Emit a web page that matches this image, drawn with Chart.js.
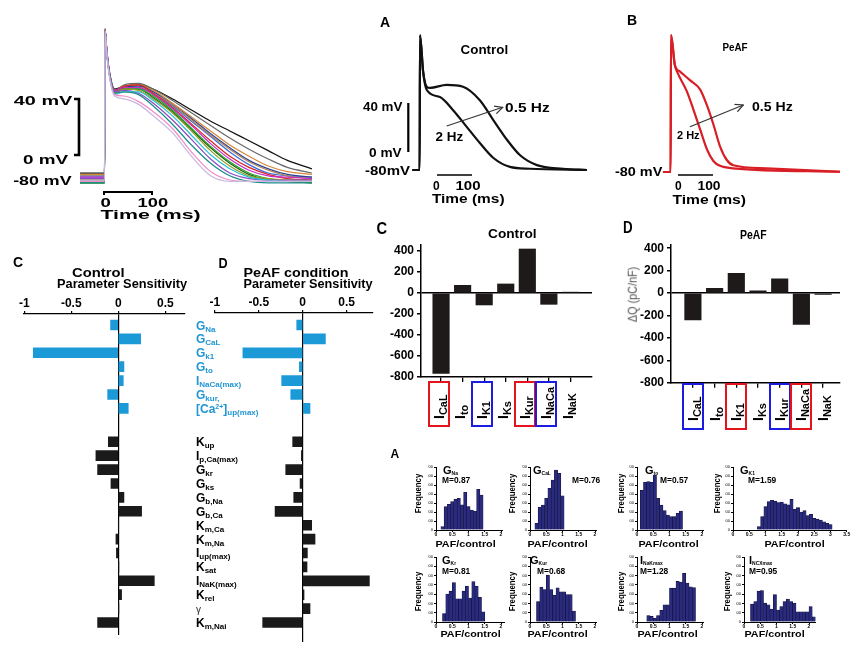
<!DOCTYPE html>
<html><head><meta charset="utf-8">
<script src="https://cdn.jsdelivr.net/npm/chart.js@4.4.1/dist/chart.umd.min.js"></script>
<style>
html,body{margin:0;padding:0;background:#fff;}
#root{position:relative;width:863px;height:655px;overflow:hidden;font-family:"Liberation Sans",Arial,sans-serif;background:#fff;}
canvas.cv{position:absolute;left:0;top:0;}
.t{position:absolute;white-space:nowrap;line-height:1;color:#000;z-index:5;}
.t sub{font-size:0.45em;vertical-align:-0.2em;line-height:0;}
.sl{position:absolute;white-space:nowrap;font-weight:bold;font-size:12px;line-height:13px;height:13px;z-index:5;}
.sl sub{font-size:8px;vertical-align:-2px;line-height:0;}
.sl sup{font-size:7px;vertical-align:4px;line-height:0;}
.rl{position:absolute;white-space:nowrap;font-weight:bold;font-size:14px;line-height:16px;z-index:5;}
.rl sub{font-size:11px;vertical-align:-3px;line-height:0;}
.bx{position:absolute;box-sizing:border-box;border:2.5px solid #000;z-index:4;}
#ov{position:absolute;left:0;top:0;z-index:6;}
</style></head>
<body><div id="root">
<svg id="ov" width="863" height="655">
<defs><marker id="ah" markerWidth="9" markerHeight="9" refX="8" refY="4.5" orient="auto" markerUnits="userSpaceOnUse"><path d="M0,0.5 L8,4.5 L0,8.5" fill="none" stroke="#333" stroke-width="1.2"/></marker></defs>
<path d="M74,99 H79 V155 H74" fill="none" stroke="#000" stroke-width="2.6"/>
<path d="M104,195 V192 H152 V195" fill="none" stroke="#000" stroke-width="2"/>
<line x1="408.3" y1="103" x2="408.3" y2="152" stroke="#000" stroke-width="2.2"/>
<line x1="437" y1="175" x2="472" y2="175" stroke="#000" stroke-width="1.6"/>
<line x1="678" y1="175" x2="713" y2="175" stroke="#000" stroke-width="1.6"/>
<line x1="446.7" y1="126" x2="502.7" y2="107.3" stroke="#333" stroke-width="1.1" marker-end="url(#ah)"/>
<line x1="690" y1="126.7" x2="743.3" y2="105" stroke="#333" stroke-width="1.1" marker-end="url(#ah)"/>
</svg>
</div>
<script>
// ================= DATA =================
// Top-left: family of simulated action potentials (time ms, voltage mV)
const apTime = [-52,-1,0,4,10,20,40,70,100,140,180,220,260,300,340,380,431];
const ap1  = [-75,-75,28,12,-4,-15,-13,-12,-15,-22,-30,-38,-45,-52,-59,-66,-72];
const ap2  = [-77,-77,27,11,-5,-16,-12,-11,-15,-23,-32,-41,-50,-58,-65,-71,-75];
const ap3  = [-79,-79,27,10,-6,-17,-14,-13,-17,-26,-36,-47,-57,-66,-72,-76,-78];
const ap4  = [-80,-80,28,12,-5,-16,-13,-12,-18,-28,-40,-52,-63,-71,-76,-79,-80];
const ap5  = [-82,-82,26,10,-6,-18,-15,-15,-20,-30,-43,-56,-67,-75,-79,-81,-82];
const ap6  = [-78,-78,27,11,-5,-16,-14,-14,-19,-29,-41,-54,-65,-73,-77,-78,-79];
const ap7  = [-81,-81,26,9,-7,-19,-17,-17,-23,-34,-48,-62,-72,-78,-80,-81,-81];
const ap8  = [-80,-80,27,10,-6,-17,-15,-16,-22,-32,-45,-59,-70,-77,-79,-80,-80];
const ap9  = [-79,-79,27,11,-5,-17,-16,-18,-25,-37,-51,-65,-75,-79,-80,-80,-80];
const ap10 = [-82,-82,26,10,-6,-18,-17,-19,-27,-40,-55,-68,-77,-81,-82,-82,-82];
const ap11 = [-76,-76,27,11,-5,-16,-13,-12,-16,-25,-35,-45,-55,-63,-70,-74,-76];
const ap12 = [-81,-81,27,10,-7,-19,-20,-24,-31,-43,-60,-74,-80,-81,-81,-81,-81];
const ap13 = [-80,-80,26,9,-8,-20,-22,-26,-34,-46,-63,-77,-81,-81,-81,-81,-81];
const ap14 = [-78,-78,28,11,-5,-16,-14,-14,-18,-27,-38,-49,-60,-69,-75,-77,-78];
const ap15 = [-82,-82,27,10,-6,-17,-15,-15,-21,-31,-44,-57,-68,-76,-80,-81,-82];
const ap16 = [-79,-79,27,11,-6,-17,-15,-14,-18,-26,-37,-48,-58,-67,-73,-77,-79];
// A: Control
const ctrl05Time = [-22,-1,0,9,19,29,76,123,171,209,249,286,334,409,477];
const ctrl05V    = [-80,-80,30,0,-12,-13,-10.5,-12,-23,-39,-55.5,-68,-76,-79,-80];
const ctrl2Time  = [-22,-1,0,9,19,57,94,134,171,209,257,314,477];
const ctrl2V     = [-80,-80,30,0,-14.5,-20.5,-31,-45,-58,-70,-77.5,-79,-80];
// B: PeAF
const peaf05Time = [-23,-1,0,11,26,54,83,102,121,140,159,178,273,483];
const peaf05V    = [-80,-80,31.8,7.3,1.9,-5,-12.5,-25,-41,-59,-70,-74.5,-77,-79.8];
const peaf2Time  = [-23,-1,0,11,18,45,64,83,102,121,140,177,483];
const peaf2V     = [-80,-80,31.8,7.3,1.5,-14,-29,-45,-61,-71,-75,-77,-79.8];
// C/D: charge change per current
const currents  = ['CaL','to','K1','Ks','Kur','NaCa','NaK'];
const dQControl = [-765,73,-114,86,419,-108,8];
const dQPeAF    = [-240,43,177,21,126,-279,-11];
const dQTicks   = [400,200,0,-200,-400,-600,-800];
// Parameter sensitivity
const sensParams = ['G<sub>Na</sub>','G<sub>CaL</sub>','G<sub>k1</sub>','G<sub>to</sub>','I<sub>NaCa(max)</sub>','G<sub>kur,</sub>','[Ca<sup>2+</sup>]<sub>up(max)</sub>',
  'K<sub>up</sub>','I<sub>p,Ca(max)</sub>','G<sub>kr</sub>','G<sub>ks</sub>','G<sub>b,Na</sub>','G<sub>b,Ca</sub>','K<sub>m,Ca</sub>','K<sub>m,Na</sub>',
  'I<sub>up(max)</sub>','K<sub>sat</sub>','I<sub>NaK(max)</sub>','K<sub>rel</sub>','γ','K<sub>m,Nai</sub>'];
const sensControl = [-0.082,0.238,-0.904,0.060,0.053,-0.113,0.106,-0.106,-0.238,-0.220,-0.078,0.060,0.248,0.0,-0.025,-0.020,0.005,0.383,0.035,0.003,-0.220];
const sensPeAF    = [-0.068,0.258,-0.680,-0.038,-0.239,-0.136,0.083,-0.114,-0.015,-0.193,-0.030,-0.102,-0.314,0.102,0.140,0.053,0.049,0.758,0.015,0.083,-0.455];
const sensTicks = [-1,-0.5,0,0.5];
// Histograms (PAF/control ratio bins and frequencies)
const binsGNa = [0.2,0.3,0.4,0.5,0.6,0.7,0.8,0.9,1.0,1.1,1.2,1.3,1.4];
const cntGNa  = [37,259,285,315,340,352,280,419,260,222,211,452,389];
const binsGCaL = [0.2,0.3,0.4,0.5,0.6,0.7,0.8,0.9,1.0];
const cntGCaL  = [74,252,278,352,463,556,667,630,381];
const binsGto = [0.15,0.25,0.35,0.45,0.55,0.65,0.75,0.85,0.95,1.05,1.15,1.25,1.35];
const cntGto  = [440,530,537,530,611,352,278,215,167,148,150,185,211];
const binsGK1 = [0.8,0.9,1.0,1.1,1.2,1.3,1.4,1.5,1.6,1.7,1.8,1.9,2.0,2.1,2.2,2.3,2.4,2.5,2.6,2.7,2.8,2.9,3.0];
const cntGK1  = [37,150,260,315,330,320,305,310,290,280,340,230,250,200,215,160,175,130,120,110,90,75,60];
const binsGKr = [0.25,0.35,0.45,0.55,0.65,0.75,0.85,0.95,1.05,1.15,1.25,1.35,1.45];
const cntGKr  = [92,302,332,424,250,250,332,387,258,435,387,265,110];
const binsGKur = [0.25,0.35,0.45,0.55,0.65,0.75,0.85,0.95,1.05,1.15,1.25,1.35];
const cntGKur  = [221,376,350,505,350,287,368,324,324,295,295,118];
const binsINaK = [0.35,0.45,0.55,0.65,0.75,0.85,0.95,1.05,1.15,1.25,1.35,1.45,1.55,1.65,1.75];
const cntINaK  = [70,60,40,70,125,186,186,365,365,437,430,523,420,380,370];
const binsINCX = [0.25,0.35,0.45,0.55,0.65,0.75,0.85,0.95,1.05,1.15,1.25,1.35,1.45,1.55,1.65,1.75,1.85,1.95,2.05,2.15];
const cntINCX  = [192,221,332,339,203,184,140,295,129,166,221,247,221,203,110,110,110,110,166,55];
const histYTicks = [0,100,200,300,400,500,600,700];
const histXTicks2 = [0,0.5,1,1.5,2];
const histXTicks35 = [0,0.5,1,1.5,2,2.5,3,3.5];

// ================= HELPERS =================
const W=863,H=655;
const root=document.getElementById('root');
Chart.defaults.font.family='"Liberation Sans", Arial, sans-serif';
Chart.defaults.color='#000';

function mk(cfg,A,ax){
  ax=ax||{};
  const c=document.createElement('canvas');
  c.width=W;c.height=H;c.className='cv';
  root.insertBefore(c,document.getElementById('ov'));
  const o=cfg.options=cfg.options||{};
  o.responsive=false;o.animation=false;o.events=[];
  o.layout={padding:{left:A.l-(ax.left||0),right:W-A.r,top:A.t-(ax.top||0),bottom:H-A.b-(ax.bottom||0)}};
  o.plugins={legend:{display:false},tooltip:{enabled:false}};
  return new Chart(c,cfg);
}
function txt(html,x,y,o){
  o=o||{};
  const d=document.createElement('div');
  d.className='t';d.innerHTML=html;
  const s=d.style;
  s.fontSize=(o.size||12)+'px';
  s.fontWeight=o.bold===false?'normal':'bold';
  if(o.color)s.color=o.color;
  root.appendChild(d);
  const w0=d.offsetWidth,h0=d.offsetHeight;
  const sx=o.w?o.w/w0:1;
  if(o.rot){
    s.left=(x-w0/2)+'px';s.top=(y-h0/2)+'px';
    s.transform='rotate(-90deg) scaleX('+sx+')';
  }else{
    const a=o.a||'c';
    s.left=(a==='l'?x:a==='r'?x-w0:x-w0/2)+'px';
    s.top=(y-h0/2)+'px';
    s.transformOrigin=(a==='l'?'left':a==='r'?'right':'center')+' center';
    s.transform='scaleX('+sx+')';
  }
  return d;
}
const pts=(xs,ys)=>xs.map((x,i)=>({x:x,y:ys[i]}));
const lineDS=(xs,ys,color,w)=>({data:pts(xs,ys),borderColor:color,borderWidth:w,pointRadius:0,cubicInterpolationMode:'monotone',fill:false});
const hiddenScales=(x0,x1,y0,y1)=>({x:{type:'linear',display:false,min:x0,max:x1},y:{type:'linear',display:false,min:y0,max:y1}});

// ================= TOP-LEFT AP FAMILY =================
const apTraces=[ap13,ap12,ap10,ap7,ap9,ap8,ap5,ap15,ap6,ap4,ap16,ap3,ap14,ap11,ap2,ap1];
const apColors=['#c9b8e0','#ef8fc8','#1f8c8c','#27c3d3','#8a4cc4','#9a9a28','#2ca02c','#156a15','#c72cc7','#d62728','#b08a5a','#2a3f95','#3d6ae0','#d5883a','#6a6a6a','#111111'];
mk({type:'line',data:{datasets:apTraces.map((tr,i)=>lineDS(apTime,tr,apColors[i],1.25))},
  options:{scales:hiddenScales(-55,435,-90,35)}},{l:78.6,r:313.8,t:19,b:194});
txt('40 mV',72,100,{size:13,a:'r',w:58});
txt('0 mV',68,159,{size:13,a:'r',w:45});
txt('-80 mV',72,180.5,{size:13,a:'r',w:59});
txt('0',105,202,{size:13,w:10});
txt('100',152.5,202,{size:13,w:31});
txt('Time  (ms)',150,214,{size:13,w:100});

// ================= A: CONTROL =================
mk({type:'line',data:{datasets:[lineDS(ctrl05Time,ctrl05V,'#111',2.2),lineDS(ctrl2Time,ctrl2V,'#111',2.2)]},
  options:{scales:hiddenScales(-25,480,-90,35)}},{l:411.25,r:588,t:29.1,b:182.25});
txt('A',385,22,{size:14,w:10});
txt('Control',484,50,{size:12,w:48});
txt('40 mV',402,107,{size:12,a:'r',w:39});
txt('0 mV',402,152.5,{size:12,a:'r',w:33});
txt('-80mV',410,171,{size:12,a:'r',w:45});
txt('0',436.5,186,{size:12,w:7});
txt('100',467.5,186,{size:12,w:25});
txt('Time  (ms)',467.5,199,{size:12,w:72});
txt('0.5 Hz',527.5,107.5,{size:12,w:45});
txt('2 Hz',449,137,{size:12,w:28});

// ================= B: PeAF =================
mk({type:'line',data:{datasets:[lineDS(peaf05Time,peaf05V,'#d81f26',2.2),lineDS(peaf2Time,peaf2V,'#d81f26',2.2)]},
  options:{scales:hiddenScales(-25,485,-90,35)}},{l:662.25,r:840.75,t:31.1,b:184.25});
txt('B',632,20,{size:14,w:10});
txt('PeAF',734.5,47.5,{size:11,w:25});
txt('-80 mV',662,172,{size:12,a:'r',w:47});
txt('0',678.5,186,{size:12,w:7});
txt('100',708.5,186,{size:12,w:23});
txt('Time  (ms)',708.5,199.5,{size:12,w:73});
txt('0.5 Hz',772.5,107,{size:12,w:41});
txt('2 Hz',688.5,135,{size:11,w:23});

// ================= C / D: dQ bar charts =================
function dqChart(vals,A,xmin,xmax,ymax,boxColors,off,yb,boxTop,boxBot){
  const ch=mk({type:'bar',data:{datasets:[{data:vals.map((v,i)=>({x:i,y:v})),backgroundColor:'#1e1a1a',barThickness:16.5}]},
    options:{scales:{
      x:{type:'linear',min:xmin,max:xmax,offset:false,
         afterBuildTicks:s=>{s.ticks=currents.map((c,i)=>({value:i}));},afterFit:s=>{s.height=5;},
         ticks:{display:false},grid:{drawOnChartArea:false,tickLength:5,tickColor:'#000',lineWidth:1.3,offset:false},border:{color:'#000',width:1.5}},
      y:{type:'linear',min:-800,max:ymax,
         afterBuildTicks:s=>{s.ticks=dQTicks.map(v=>({value:v}));},afterFit:s=>{s.width=40;},
         ticks:{font:{size:12,weight:'bold'},padding:3,color:'#000',callback:v=>String(v)},
         grid:{color:c=>(c.tick&&c.tick.value===0)?'#000':'rgba(0,0,0,0)',lineWidth:1.5,tickColor:'#000',tickLength:4},
         border:{color:'#000',width:1.5}}
    }}},A,{left:40,bottom:5});
  currents.forEach((c,i)=>{
    const cx=ch.scales.x.getPixelForValue(i)+off;
    if(boxColors[i]){
      const b=document.createElement('div');b.className='bx';
      b.style.left=(cx-11)+'px';b.style.top=boxTop+'px';b.style.width='22px';b.style.height=(boxBot-boxTop)+'px';
      b.style.borderColor=boxColors[i];root.appendChild(b);
    }
    const d=document.createElement('div');d.className='rl';
    d.innerHTML='I<sub>'+c+'</sub>';root.appendChild(d);
    const h=d.offsetHeight;
    d.style.left=cx+'px';d.style.top=yb+'px';d.style.transformOrigin='0 0';
    d.style.transform='rotate(-90deg) translate(0,'+(-h/2)+'px)';
  });
  return ch;
}
const RED='#e3141c',BLUE='#1c1ce0';
dqChart(dQControl,{l:421,r:592,t:245,b:377},-0.93,7.0,457,[RED,null,BLUE,null,RED,BLUE,null],-2.5,419,381,426.5);
txt('C',382,229,{size:16,w:11});
txt('Control',512.5,234,{size:12,w:49});
dqChart(dQPeAF,{l:671,r:840,t:245,b:382.7},-1.01,6.78,429,[BLUE,null,RED,null,BLUE,RED,null],0,421,383,430);
txt('D',627.5,228,{size:16,w:10});
txt('PeAF',753.5,235,{size:12,w:27});
txt('ΔQ (pC/nF)',632,294.5,{size:13,bold:false,color:'#555',rot:true,w:55});

// ================= Parameter sensitivity (horizontal bars) =================
const BLUEBAR='#1c9ad8';
const sensRows=sensParams.map((p,i)=>i<7?i:i+1.4);
function sensChart(vals,A,xmax,ymin,ymax){
  mk({type:'bar',data:{datasets:[{data:vals.map((v,i)=>({x:v,y:sensRows[i]})),
      backgroundColor:vals.map((v,i)=>i<7?BLUEBAR:'#1a1a1a'),barThickness:10}]},
    options:{indexAxis:'y',scales:{
      x:{type:'linear',position:'top',min:-1.005,max:xmax,offset:false,
         afterBuildTicks:s=>{s.ticks=sensTicks.map(v=>({value:v}));},afterFit:s=>{s.height=20;},
         ticks:{font:{size:12,weight:'bold'},padding:0,maxRotation:0,autoSkip:false,color:'#000',callback:v=>String(v)},
         grid:{color:c=>(c.tick&&c.tick.value===0)?'#000':'rgba(0,0,0,0)',lineWidth:1.2,tickColor:'#000',tickLength:3,offset:false},
         border:{color:'#000',width:1.2}},
      y:{type:'linear',reverse:true,min:ymin,max:ymax,display:false,offset:false}
    }}},A,{top:20});
}
sensChart(sensControl,{l:23.8,r:184.1,t:314,b:635},0.70,-0.79,22.3);
sensChart(sensPeAF,{l:214.3,r:372.2,t:313,b:642},0.79,-0.863,22.8);
txt('C',18,262,{size:14,w:10});
txt('Control',98.5,273,{size:12,w:53});
txt('Parameter Sensitivity',122,283.5,{size:12,w:130});
txt('D',222.5,262.5,{size:14,w:9});
txt('PeAF condition',295.5,273,{size:12,w:105});
txt('Parameter Sensitivity',307.5,283.5,{size:12,w:129});
sensParams.forEach((p,i)=>{
  const d=document.createElement('div');d.className='sl';d.innerHTML=p;
  const y=325+13.9*sensRows[i];
  d.style.left='196px';d.style.top=(y-5.5)+'px';
  if(i<7)d.style.color='#2196d3';
  if(p==='γ'){d.style.fontWeight='normal';d.style.fontSize='10px';d.style.color='#333';}
  root.appendChild(d);
});

// ================= Histograms =================
const histRows=[{t:467,b:530,ty:470,my:480.5,fy:493,py:543.5},{t:557,b:622,ty:560,my:571,fy:591,py:633.5}];
const histSpecs=[
 {bins:binsGNa,cnt:cntGNa,row:0,x0:436,max:2.05,tk:histXTicks2,title:'G<sub>Na</sub>',tx:443,M:'M=0.87',mx:442,fx:419,px:465},
 {bins:binsGCaL,cnt:cntGCaL,row:0,x0:530,max:2.05,tk:histXTicks2,title:'G<sub>CaL</sub>',tx:533,M:'M=0.76',mx:572,fx:513,px:557},
 {bins:binsGto,cnt:cntGto,row:0,x0:637,max:2.05,tk:histXTicks2,title:'G<sub>to</sub>',tx:645,M:'M=0.57',mx:660,fx:622,px:668},
 {bins:binsGK1,cnt:cntGK1,row:0,x0:733,max:3.5,tk:histXTicks35,title:'G<sub>K1</sub>',tx:740,M:'M=1.59',mx:748,fx:718,px:794},
 {bins:binsGKr,cnt:cntGKr,row:1,x0:436,max:2.1,tk:histXTicks2,title:'G<sub>Kr</sub>',tx:442,M:'M=0.81',mx:442,fx:419,px:470},
 {bins:binsGKur,cnt:cntGKur,row:1,x0:530,max:2.05,tk:histXTicks2,title:'G<sub>Kur</sub>',tx:530,M:'M=0.68',mx:537,fx:513,px:557},
 {bins:binsINaK,cnt:cntINaK,row:1,x0:637,max:2.05,tk:histXTicks2,title:'I<sub>NaKmax</sub>',tx:640,M:'M=1.28',mx:640,fx:622,px:667},
 {bins:binsINCX,cnt:cntINCX,row:1,x0:744,max:2.2,tk:histXTicks2,title:'I<sub>NCXmax</sub>',tx:749,M:'M=0.95',mx:749,fx:728,px:774}
];
histSpecs.forEach(h=>{
  const R=histRows[h.row];
  mk({type:'bar',data:{datasets:[{data:pts(h.bins,h.cnt),backgroundColor:'#2a2a7e',borderColor:'#10103c',borderWidth:0.6,barPercentage:1,categoryPercentage:1}]},
    options:{scales:{
      x:{type:'linear',min:0,max:h.max,offset:false,
         afterBuildTicks:s=>{s.ticks=h.tk.map(v=>({value:v}));},afterFit:s=>{s.height=9;},
         ticks:{font:{size:5,weight:'bold'},padding:0,maxRotation:0,autoSkip:false,color:'#000',callback:v=>String(v)},
         grid:{drawOnChartArea:false,tickLength:2,tickColor:'#000',offset:false},border:{color:'#000',width:1}},
      y:{type:'linear',min:0,max:700,
         afterBuildTicks:s=>{s.ticks=histYTicks.map(v=>({value:v}));},afterFit:s=>{s.width=8;},
         ticks:{font:{size:4},padding:1,color:'#000',callback:v=>String(v)},
         grid:{drawOnChartArea:false,tickLength:2,tickColor:'#000'},border:{color:'#000',width:1}}
    }}},{l:h.x0,r:h.x0+h.max*32.5,t:R.t,b:R.b},{left:8,bottom:9});
  txt(h.title,h.tx,R.ty,{size:11,a:'l'});
  txt(h.M,h.mx,R.my,{size:9,a:'l',w:28});
  txt('Frequency',h.fx,R.fy,{size:9,rot:true,w:40});
  txt('PAF/control',h.px,R.py,{size:9.5,w:60});
});
txt('A',395,454,{size:12,w:9});
</script>
</body></html>
